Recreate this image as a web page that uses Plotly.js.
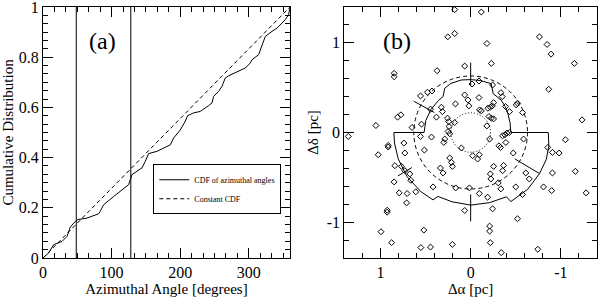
<!DOCTYPE html>
<html>
<head>
<meta charset="utf-8">
<script src="https://cdn.plot.ly/plotly-3.0.1.min.js"></script>
<style>html,body{margin:0;padding:0;background:#fff;}#chart{width:598px;height:297px;}</style>
</head>
<body>
<div id="chart"></div>
<script>
// ---------- Panel (a): cumulative distribution of azimuthal angles ----------
const cdfAngles = [0, 8.2, 15.5, 27.7, 35.0, 39.8, 47.1, 50.4, 64.1, 81.0, 83.5, 88.3, 102.9, 124.8, 129.7, 137.0, 144.3, 149.1, 153.9, 166.2, 185.6, 190.4, 200.1, 207.4, 210.8, 219.5, 229.3, 241.4, 246.4, 248.7, 256.0, 260.9, 265.7, 270.6, 282.8, 294.9, 302.2, 304.7, 314.3, 316.8, 321.6, 324.1, 333.8, 341.1, 348.4, 353.2, 358.0, 360];
const cdfValues = [0, 0.02, 0.053, 0.066, 0.086, 0.123, 0.146, 0.153, 0.159, 0.176, 0.186, 0.212, 0.245, 0.292, 0.332, 0.345, 0.359, 0.385, 0.416, 0.425, 0.451, 0.478, 0.51, 0.545, 0.567, 0.578, 0.584, 0.607, 0.618, 0.644, 0.664, 0.684, 0.717, 0.726, 0.743, 0.757, 0.777, 0.79, 0.81, 0.83, 0.87, 0.883, 0.903, 0.916, 0.936, 0.95, 0.969, 1.0];
const constAngles = [0, 360];
const constValues = [0, 1];
const markAngles = [48.5, 128];
const legendNames = ['CDF of azimuthal angles', 'Constant CDF'];
const aXTicks = [0, 100, 200, 300];
const aYTicks = [0, 0.2, 0.4, 0.6, 0.8, 1];
const aYTickText = ['0', '0.2', '0.4', '0.6', '0.8', '1'];

// ---------- Panel (b): positions (pc) ----------
const dAlpha = [0.254,0.177,0.177,-0.118,-0.18,-0.762,-0.847,-0.891,-1.149,-0.229,0.066,0.372,0.848,0.848,-0.865,-1.234,-1.05,-0.854,-0.906,-0.98,1.356,1.05,0.81,0.773,0.556,0.478,0.428,-0.015,-0.092,-0.243,-0.335,-0.092,0.066,0.03,0.019,0.169,0.324,0.313,0.257,0.243,0.24,0.177,0.445,0.379,0.545,0.649,-0.099,-0.118,-0.191,-0.218,-0.24,-0.254,-0.35,-0.387,-0.431,-0.505,-0.519,-0.575,-0.203,-0.229,-0.254,-0.18,-0.21,-0.313,-0.331,-0.354,-0.379,-0.401,-0.428,-0.39,-0.586,0.103,0.287,0.298,0.232,0.25,0.434,0.556,0.74,0.914,0.914,0.729,0.513,1.024,-0.022,-0.096,-0.077,-0.472,-0.254,-0.365,-0.354,-0.218,-0.224,-0.611,-0.649,-0.906,-1.16,-1.279,-0.306,-0.335,0.014,-0.096,-0.188,-0.5,-0.807,-0.898,-0.575,-0.243,0.066,-0.519,-0.21,-0.21,-0.218,-0.339,-0.744,0.202,0.166,0.232,0.213,0.202,0.306,0.335,0.417,0.84,0.766,0.729,0.674,0.663,0.848,0.608,0.792,0.704,0.71,0.925,0.925,0.994,0.876,0.519,0.552,0.445];
const dDelta = [1.067,1.104,1.371,1.344,0.993,1.067,0.982,0.874,0.771,0.771,0.741,0.689,0.66,0.622,0.482,0.141,-0.081,-0.167,-0.222,-0.229,-0.044,0.078,0.171,0.197,0.408,0.449,0.463,0.541,0.574,0.53,0.444,0.389,0.419,0.363,0.297,0.319,0.282,0.233,0.16,0.122,0.067,0.111,0.26,0.171,0.093,0.056,0.252,0.241,0.271,0.282,0.297,0.333,0.4,0.289,0.233,0.308,0.327,0.222,0.178,0.16,0.152,0.074,-0.073,-0.148,-0.167,-0.037,-0.026,-0.007,0,-0.111,-0.073,-0.173,-0.073,-0.111,-0.014,0.011,-0.051,-0.044,-0.118,-0.144,-0.162,-0.229,-0.196,-0.248,-0.259,-0.248,-0.296,-0.229,-0.378,-0.367,-0.426,-0.462,-0.518,-0.451,-0.518,-0.451,-0.433,-0.673,-0.562,-0.629,-0.618,-0.681,-0.722,-0.607,-0.607,-0.648,-0.692,-0.851,-0.87,-0.962,-1.044,-1.1,-1.229,-1.34,-1.303,-1.248,-0.618,-0.284,-0.333,-0.378,-0.451,-0.396,-0.607,-0.37,-0.378,-0.426,-0.462,-0.533,-0.551,-0.662,-0.673,-0.681,-0.785,-0.867,-0.889,-1.107,-1.229,-1.089,-1.284,-1.278];

// boundary: angle from north towards west (deg) and radius (pc)
const boundaryAngle = [0, 11, 22.6, 30, 43, 53, 62, 76, 90, 90, 100, 110, 121, 135, 150, 151, 165, 180, 195, 207, 209, 220, 235, 250, 262, 270, 270, 285, 300, 315, 322.6, 329.8, 338, 350, 360];
const boundaryRad   = [0.59, 0.59, 0.59, 0.50, 0.495, 0.48, 0.465, 0.45, 0.445, 0.86, 0.88, 0.89, 0.89, 0.895, 0.89, 0.82, 0.81, 0.81, 0.80, 0.80, 0.86, 0.86, 0.86, 0.855, 0.852, 0.851, 0.516, 0.515, 0.51, 0.505, 0.504, 0.571, 0.59, 0.595, 0.59];
// radial marker segments
const segAngle = [0, 180, 121, 299, 239];
const segR0 = [0.52, 0.69, 0.57, 0.46, 0.76];
const segR1 = [0.78, 0.99, 0.89, 0.72, 0.94];
const circleRadii = [0.63, 0.22];
const bTickVals = [-1, 0, 1];
const bTickText = ['-1', '0', '1'];

const D = Math.PI / 180;
const toX = (a, r) => -r * Math.sin(a * D);
const toY = (a, r) => r * Math.cos(a * D);

const bx = boundaryAngle.map((a, i) => toX(a, boundaryRad[i]));
const by = boundaryAngle.map((a, i) => toY(a, boundaryRad[i]));
const sx = [], sy = [];
segAngle.forEach((a, i) => { sx.push(toX(a, segR0[i]), toX(a, segR1[i]), null); sy.push(toY(a, segR0[i]), toY(a, segR1[i]), null); });
const vx = [], vy = [];
markAngles.forEach(a => { vx.push(a, a, null); vy.push(0, 1, null); });

const FONT = 'Liberation Serif, Times New Roman, serif';
const black = '#000';

const traces = [
  {x: cdfAngles, y: cdfValues, type: 'scatter', mode: 'lines', name: legendNames[0], line: {color: black, width: 1}, xaxis: 'x', yaxis: 'y'},
  {x: constAngles, y: constValues, type: 'scatter', mode: 'lines', name: legendNames[1], line: {color: black, width: 1, dash: '4px,3px'}, xaxis: 'x', yaxis: 'y'},
  {x: vx, y: vy, type: 'scatter', mode: 'lines', showlegend: false, line: {color: black, width: 1}, xaxis: 'x', yaxis: 'y', hoverinfo: 'skip'},
  {x: bx, y: by, type: 'scatter', mode: 'lines', showlegend: false, line: {color: black, width: 1}, xaxis: 'x2', yaxis: 'y2'},
  {x: sx, y: sy, type: 'scatter', mode: 'lines', showlegend: false, line: {color: black, width: 1}, xaxis: 'x2', yaxis: 'y2'},
  {x: dAlpha, y: dDelta, type: 'scatter', mode: 'markers', showlegend: false, marker: {symbol: 'diamond-open', size: 4.6, color: black, line: {width: 1, color: black}}, xaxis: 'x2', yaxis: 'y2'}
];

const shapes = [
  {type: 'circle', xref: 'x2', yref: 'y2', x0: -circleRadii[0], x1: circleRadii[0], y0: -circleRadii[0], y1: circleRadii[0], line: {color: black, width: 1, dash: '4px,3px'}},
  {type: 'circle', xref: 'x2', yref: 'y2', x0: -circleRadii[1], x1: circleRadii[1], y0: -circleRadii[1], y1: circleRadii[1], line: {color: black, width: 1, dash: '1px,2px'}}
];

const axCommon = {
  showline: true, linecolor: black, linewidth: 1, mirror: 'ticks', ticks: 'inside', ticklen: 10, tickwidth: 1, tickcolor: black,
  showgrid: false, zeroline: false, automargin: false, ticklabeloverflow: 'allow',
  tickfont: {family: FONT, size: 16, color: black}
};
const titleFont = {family: FONT, size: 15, color: black};

const layout = {
  width: 598, height: 297,
  margin: {l: 43, r: 1, t: 7, b: 39},
  paper_bgcolor: '#fff', plot_bgcolor: '#fff',
  font: {family: FONT, color: black},
  showlegend: true,
  legend: {x: 0.1991, y: 0.3735, xanchor: 'left', yanchor: 'top', bgcolor: '#fff', bordercolor: black, borderwidth: 1, font: {family: FONT, size: 8, color: black}, tracegroupgap: 0},
  xaxis: Object.assign({}, axCommon, {domain: [0, 0.4458], range: [0, 360], tickmode: 'array', tickvals: aXTicks,
    minor: {dtick: 100 / 6, tick0: 0, ticks: 'inside', ticklen: 5, tickcolor: black},
    title: {text: 'Azimuthal Angle [degrees]', font: titleFont, standoff: 0}, anchor: 'y'}),
  yaxis: Object.assign({}, axCommon, {domain: [0, 1], range: [0, 1], tickmode: 'array', tickvals: aYTicks, ticktext: aYTickText,
    minor: {dtick: 0.2 / 6, tick0: 0, ticks: 'inside', ticklen: 5, tickcolor: black},
    title: {text: 'Cumulative Distribution', font: titleFont, standoff: 4}, anchor: 'x'}),
  xaxis2: Object.assign({}, axCommon, {domain: [0.5439, 1], range: [1.4, -1.4], tickmode: 'array', tickvals: bTickVals, ticktext: bTickText,
    minor: {dtick: 0.2, tick0: 0, ticks: 'inside', ticklen: 5, tickcolor: black},
    title: {text: 'Δα [pc]', font: titleFont, standoff: 0}, anchor: 'y2'}),
  yaxis2: Object.assign({}, axCommon, {domain: [0, 1], range: [-1.4, 1.4], tickmode: 'array', tickvals: bTickVals, ticktext: bTickText,
    minor: {dtick: 0.2, tick0: 0, ticks: 'inside', ticklen: 5, tickcolor: black},
    title: {text: 'Δδ [pc]', font: titleFont, standoff: 4}, anchor: 'x2'}),
  shapes: shapes,
  annotations: [
    {text: '(a)', xref: 'paper', yref: 'paper', x: 0.1065, y: 0.8645, xanchor: 'center', yanchor: 'middle', showarrow: false, font: {family: FONT, size: 24, color: black}},
    {text: '(b)', xref: 'paper', yref: 'paper', x: 0.639, y: 0.8645, xanchor: 'center', yanchor: 'middle', showarrow: false, font: {family: FONT, size: 24, color: black}}
  ]
};

Plotly.newPlot('chart', traces, layout, {displayModeBar: false, staticPlot: true});
</script>
</body>
</html>
